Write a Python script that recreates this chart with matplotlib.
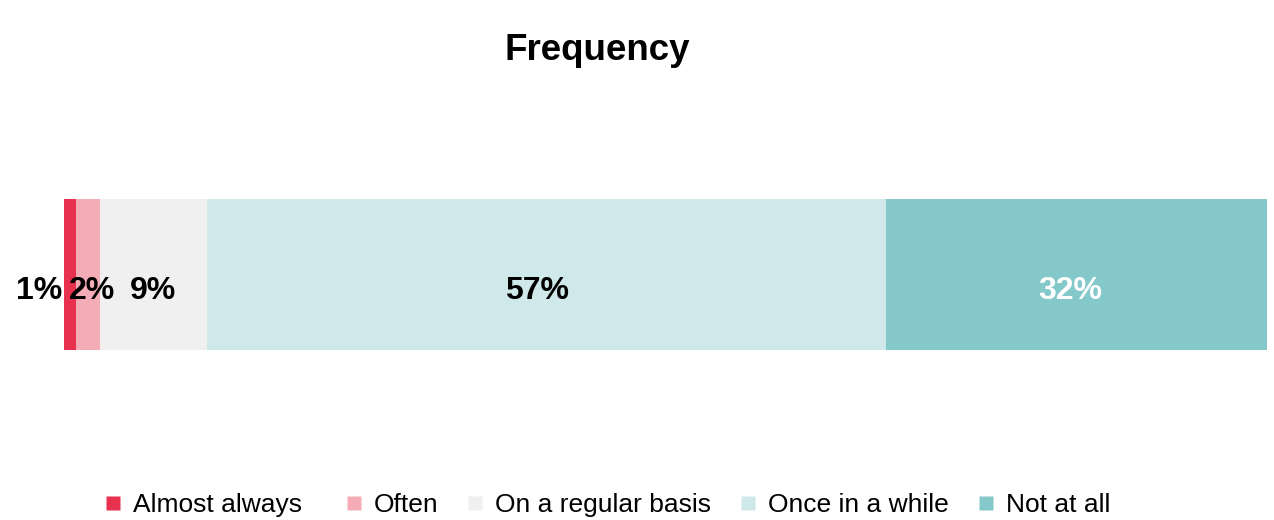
import matplotlib
matplotlib.use("Agg")
import matplotlib.pyplot as plt
from matplotlib.lines import Line2D

plt.rcParams['font.family'] = ['Liberation Sans', 'DejaVu Sans']

categories = ["Almost always", "Often", "On a regular basis", "Once in a while", "Not at all"]
values = [1, 2, 9, 57, 32]
colors = ["#E8304F", "#F4ACB7", "#F0F0F0", "#CFE8E9", "#85C8C9"]
label_colors = ["black", "black", "black", "black", "white"]
# horizontal nudges (pixels) for the value labels so the narrow segments stay readable
label_nudge_px = [-31, 4, 0, -9, -6]

fig = plt.figure(figsize=(12.74, 5.2), dpi=100)
ax = fig.add_axes([64 / 1274, 0.327, (1267 - 64) / 1274, 0.617 - 0.327])

total = sum(values)
left = 0
for cat, val, col, lc, dx in zip(categories, values, colors, label_colors, label_nudge_px):
    ax.barh(0, val, left=left, height=1.0, color=col, edgecolor='none')
    ax.annotate(f"{val}%", xy=(left + val / 2, 0), xytext=(dx * 0.72, -16 * 0.72),
                textcoords='offset points', ha='center', va='center',
                fontsize=23, fontweight='bold', color=lc, annotation_clip=False)
    left += val

ax.set_xlim(0, total)
ax.set_ylim(-0.5, 0.5)
ax.axis('off')

fig.text(597 / 1274, 1 - 50 / 520, "Frequency", ha='center', va='center',
         fontsize=26.5, fontweight='bold')

handles = [Line2D([], [], marker='s', linestyle='none', markersize=9.5,
                  markerfacecolor=c, markeredgecolor='none') for c in colors]
legend_kw = dict(loc='center left', frameon=False, fontsize=19, handlelength=0.8,
                 handletextpad=0.36, columnspacing=1.0, borderaxespad=0, borderpad=0)
legend_y = 1 - 505 / 520
# first entry sits a little apart from the rest of the row
fig.legend(handles[:1], categories[:1], bbox_to_anchor=(102 / 1274, legend_y), ncol=1, **legend_kw)
fig.legend(handles[1:], categories[1:], bbox_to_anchor=(343 / 1274, legend_y), ncol=4, **legend_kw)

fig.savefig("out.png", dpi=100, facecolor='white')
